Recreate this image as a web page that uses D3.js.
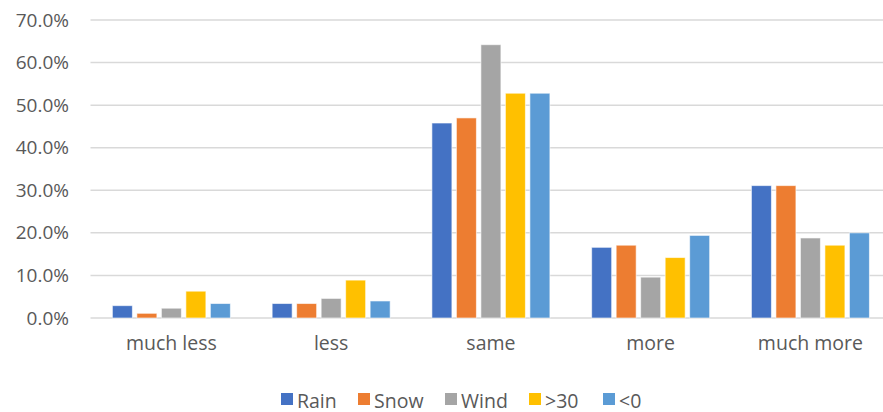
<!DOCTYPE html>
<html>
<head>
<meta charset="utf-8">
<script src="https://cdn.jsdelivr.net/npm/d3@7/dist/d3.min.js"></script>
<style>
  html, body { margin: 0; padding: 0; background: #fff; }
  svg { display: block; font-family: "Open Sans", Lato, sans-serif; }
</style>
</head>
<body>
<svg id="chart" width="883" height="412"></svg>
<script>
// Categories and series
const categories = ["much less", "less", "same", "more", "much more"];
const seriesNames = ["Rain", "Snow", "Wind", ">30", "<0"];
const seriesColors = ["#4472C4", "#ED7D31", "#A5A5A5", "#FFC000", "#5B9BD5"];

// Share of responses per category (fractions)
const rain = [0.029, 0.034, 0.458, 0.166, 0.311];
const snow = [0.011, 0.034, 0.470, 0.171, 0.311];
const wind = [0.023, 0.046, 0.642, 0.096, 0.188];
const over30 = [0.063, 0.089, 0.528, 0.142, 0.171];
const below0 = [0.034, 0.040, 0.528, 0.194, 0.200];

const yTicks = [0, 0.1, 0.2, 0.3, 0.4, 0.5, 0.6, 0.7];

const seriesValues = [rain, snow, wind, over30, below0];

const svg = d3.select("#chart");
const plotLeft = 91.5, plotRight = 890.3, plotTop = 20, plotBottom = 318;
const textColor = "#595959";

const x0 = d3.scaleBand().domain(categories).range([plotLeft, plotRight]).padding(0);
const groupW = 118;
const x1 = d3.scaleBand().domain(seriesNames)
  .range([(x0.bandwidth() - groupW) / 2, (x0.bandwidth() + groupW) / 2])
  .paddingInner(0.1837).paddingOuter(0);
const y = d3.scaleLinear().domain([0, 0.7]).range([plotBottom, plotTop]);

// Gridlines
svg.append("g").selectAll("line").data(yTicks).join("line")
  .attr("x1", plotLeft - 1).attr("x2", 883)
  .attr("y1", d => y(d)).attr("y2", d => y(d))
  .attr("stroke", "#d9d9d9").attr("stroke-width", 1.5);

// Y axis labels
const yAxis = d3.axisLeft(y).tickValues(yTicks).tickFormat(d3.format(".1%")).tickSize(0).tickPadding(0);
const yg = svg.append("g").attr("transform", "translate(69,0)").call(yAxis);
yg.select(".domain").remove();
yg.selectAll("text").attr("fill", textColor).attr("font-size", 19)
  .attr("font-family", "'Open Sans', Lato, sans-serif");

// Bars
const groups = svg.append("g").selectAll("g").data(categories).join("g")
  .attr("transform", c => `translate(${x0(c)},0)`);
groups.selectAll("rect")
  .data((c, ci) => seriesNames.map((s, si) => ({ s, si, v: seriesValues[si][ci] })))
  .join("rect")
  .attr("x", d => x1(d.s))
  .attr("width", x1.bandwidth())
  .attr("y", d => y(d.v))
  .attr("height", d => y(0) - y(d.v))
  .attr("fill", d => seriesColors[d.si])
  .attr("stroke", "#fff").attr("stroke-opacity", 0.6).attr("stroke-width", 1);

// X axis labels
const xAxis = d3.axisBottom(x0).tickSize(0).tickPadding(0);
const xg = svg.append("g").attr("transform", `translate(0,${plotBottom + 18})`).call(xAxis);
xg.select(".domain").remove();
xg.selectAll("text").attr("fill", textColor).attr("font-size", 19.5)
  .attr("font-family", "'Open Sans', Lato, sans-serif");

// Legend
const legendX = [281, 358, 445, 529, 603];
const legend = svg.append("g").selectAll("g").data(seriesNames).join("g")
  .attr("transform", (d, i) => `translate(${legendX[i]},393)`);
legend.append("rect").attr("width", 12).attr("height", 12).attr("y", 0)
  .attr("fill", (d, i) => seriesColors[i]);
legend.append("text").attr("x", 16).attr("y", 14.5)
  .attr("fill", textColor).attr("font-size", 19.5)
  .text(d => d);
</script>
</body>
</html>
